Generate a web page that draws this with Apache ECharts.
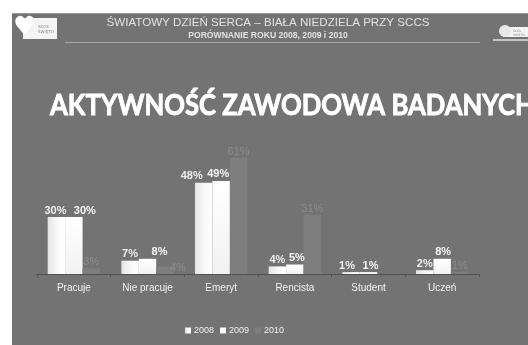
<!DOCTYPE html>
<html>
<head>
<meta charset="utf-8">
<script src="https://cdn.jsdelivr.net/npm/echarts@6/dist/echarts.min.js"></script>
<style>
html,body{margin:0;padding:0;background:#ffffff;}
#c{width:528px;height:345px;}
</style>
</head>
<body>
<div id="c"></div>
<script>
const categories = ['Pracuje', 'Nie pracuje', 'Emeryt', 'Rencista', 'Student', 'Uczeń'];
const seriesNames = ['2008', '2009', '2010'];
const values2008 = [30, 7, 48, 4, 1, 2];
const values2009 = [30, 8, 49, 5, 1, 8];
const values2010 = [3, 4, 61, 31, 0, 1];

const headerTitle = 'ŚWIATOWY DZIEŃ SERCA – BIAŁA NIEDZIELA PRZY SCCS';
const headerSubtitle = 'PORÓWNANIE ROKU 2008, 2009 i 2010';
const mainTitle = 'AKTYWNOŚĆ ZAWODOWA BADANYCH';

const BG = '#737373';
const chart = echarts.init(document.getElementById('c'), null, {renderer: 'canvas'});

function labelFmt(p) { return p.value > 0 ? p.value + '%' : ''; }

// label nudges (like the original's automatic overlap avoidance), per series
const nudge2008 = [[-1, 0], [0, 0], [-12, 0], [0, 0], [-4, 0], [0, 0]];
const nudge2009 = [[11, 0], [12, 0], [-3, 0], [2, 0], [2, 0], [1, 0]];
const nudge2010 = [[0, 0], [13, 8], [0, 0], [0, 0], [0, 0], [0, 0]];
function withNudge(vals, nudges) {
  return vals.map((v, i) => ({value: v, label: {offset: nudges[i]}}));
}

const option = {
  backgroundColor: '#ffffff',
  animation: false,
  graphic: [
    {type: 'rect', left: 12, top: 13, shape: {width: 516, height: 332}, style: {fill: BG}, z: -10},
    {type: 'line', shape: {x1: 12, y1: 13.5, x2: 528, y2: 13.5}, style: {stroke: '#9a9a9a', lineWidth: 1}},
    {type: 'line', shape: {x1: 65, y1: 42.5, x2: 480, y2: 42.5}, style: {stroke: '#a8a8a8', lineWidth: 1}},
    // left logo
    {type: 'rect', left: 23, top: 18, shape: {width: 34, height: 21}, style: {fill: '#f4f4f4'}},
    {type: 'text', left: 13, top: 15, style: {text: '♥', fill: '#ffffff', font: '26px "DejaVu Sans"', stroke: '#e0e0e0', lineWidth: 0.5}},
    {type: 'text', left: 38, top: 24, style: {text: 'SCCS\nŚWIĘTO', fill: '#8a8a8a', font: '4px "DejaVu Sans"', lineHeight: 5}},
    // right logo
    {type: 'rect', left: 503, top: 27, shape: {width: 25, height: 10}, style: {fill: '#f4f4f4'}},
    {type: 'circle', shape: {cx: 505, cy: 31, r: 6}, style: {fill: '#e8e8e8'}},
    {type: 'line', shape: {x1: 493, y1: 40, x2: 528, y2: 40}, style: {stroke: '#e0e0e0', lineWidth: 1.5}},
    {type: 'text', left: 513, top: 29, style: {text: 'SCCS\nŚWIĘTO', fill: '#8a8a8a', font: '3px "DejaVu Sans"', lineHeight: 4}},
    // header texts
    {type: 'text', x: 268, y: 23, style: {text: headerTitle, fill: '#e2e2e2', font: '11.6px "Liberation Sans", Arial', align: 'center', verticalAlign: 'middle'}},
    {type: 'text', x: 268, y: 36, style: {text: headerSubtitle, fill: '#e2e2e2', font: 'bold 8.6px "Liberation Sans", Arial', align: 'center', verticalAlign: 'middle'}},
    {type: 'text', x: 50, y: 106, scaleX: 0.885, style: {text: mainTitle, fill: '#ffffff', stroke: '#ffffff', lineWidth: 0.9, font: 'bold 29px Lato', align: 'left', verticalAlign: 'middle'}}
  ],
  legend: {
    data: seriesNames,
    left: 180,
    top: 321,
    itemWidth: 6,
    itemHeight: 6,
    itemGap: 6,
    icon: 'rect',
    textStyle: {color: '#f0f0f0', fontSize: 9, fontFamily: '"Liberation Sans", Arial', padding: [0, 0, 0, -2]}
  },
  grid: {left: 37, right: 49, top: 141, bottom: 71, containLabel: false},
  xAxis: {
    type: 'category',
    data: categories,
    axisLine: {lineStyle: {color: '#505050', width: 1}},
    axisTick: {show: true, length: 3, lineStyle: {color: '#505050'}},
    axisLabel: {color: '#f2f2f2', fontSize: 10, fontFamily: '"Liberation Sans", Arial', margin: 9}
  },
  yAxis: {
    type: 'value', min: 0, max: 70,
    show: false,
    splitLine: {show: false}
  },
  series: [
    {
      name: '2008', type: 'bar', data: withNudge(values2008, nudge2008),
      barGap: '0%', barCategoryGap: '29%',
      itemStyle: {color: new echarts.graphic.LinearGradient(0, 0, 1, 0, [{offset: 0, color: '#e4e4e4'}, {offset: 0.6, color: '#fafafa'}, {offset: 1, color: '#ffffff'}])},
      label: {show: true, position: 'top', distance: 1, formatter: labelFmt, color: '#eeeeee', fontSize: 11, fontWeight: 'bold', fontFamily: '"Liberation Sans", Arial'}
    },
    {
      name: '2009', type: 'bar', data: withNudge(values2009, nudge2009),
      itemStyle: {color: new echarts.graphic.LinearGradient(0, 0, 0, 1, [{offset: 0, color: '#ffffff'}, {offset: 1, color: '#f2f2f2'}])},
      label: {show: true, position: 'top', distance: 1, formatter: labelFmt, color: '#f6f6f6', fontSize: 11, fontWeight: 'bold', fontFamily: '"Liberation Sans", Arial'}
    },
    {
      name: '2010', type: 'bar', data: withNudge(values2010, nudge2010),
      itemStyle: {color: '#7e7e7e'},
      label: {show: true, position: 'top', distance: 1, formatter: labelFmt, color: '#8c8c8c', fontSize: 11, fontFamily: '"Liberation Sans", Arial'}
    }
  ]
};
chart.setOption(option);
</script>
</body>
</html>
